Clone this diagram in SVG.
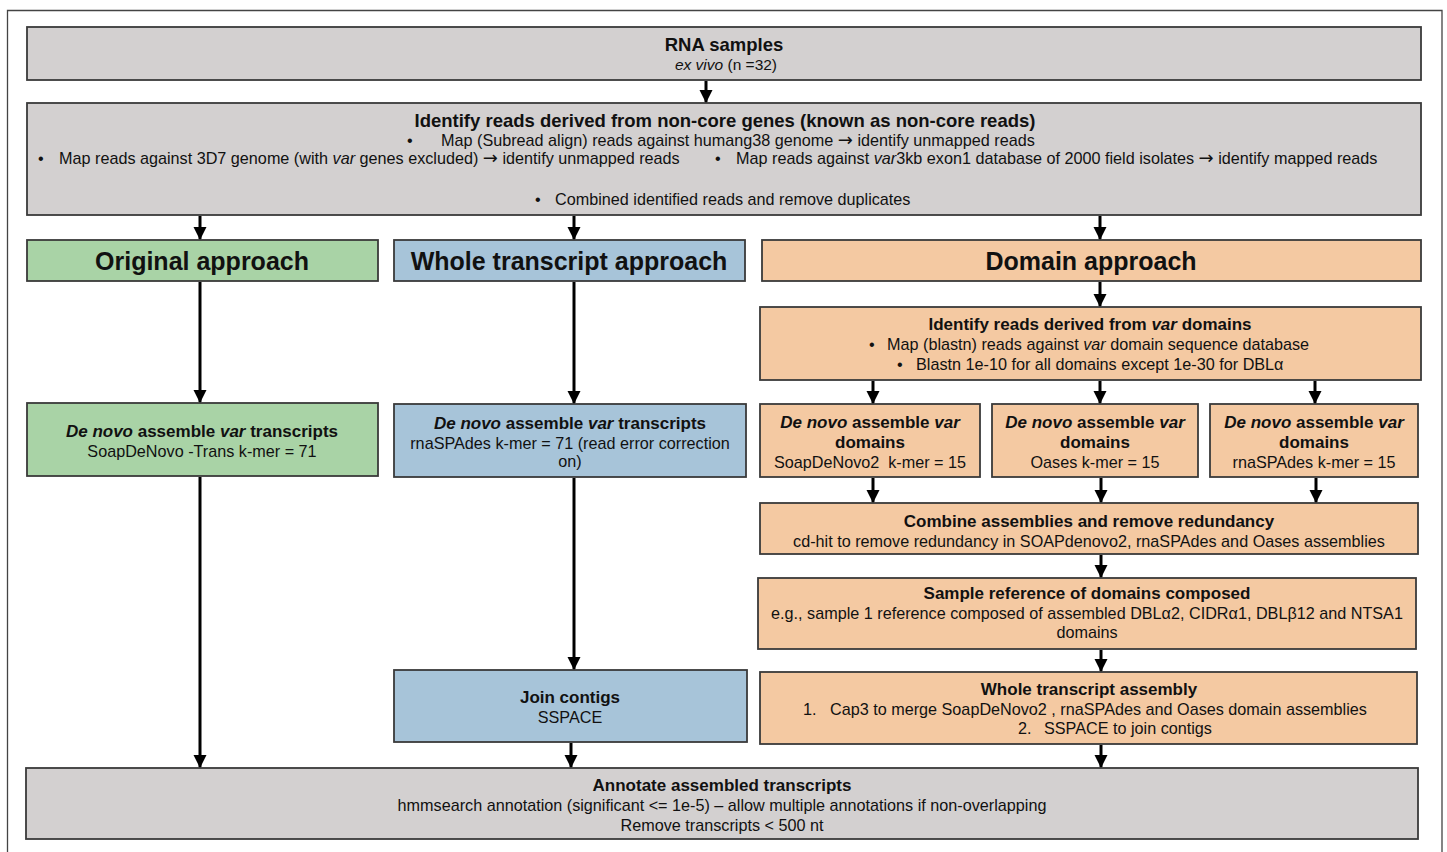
<svg xmlns="http://www.w3.org/2000/svg" width="1447" height="852" viewBox="0 0 1447 852" xml:space="preserve">
<style>
text{font-family:"Liberation Sans",Arial,sans-serif;fill:#111;text-anchor:middle;font-size:16.2px;white-space:pre}
.s{text-anchor:start}
.b{font-weight:bold;font-size:17px}
.t{font-weight:bold;font-size:18.5px}
.h{font-weight:bold;font-size:25px}
.i{font-style:italic}
.ar{font-family:"DejaVu Sans",sans-serif;font-size:18px}
.box{stroke:#3a3a3a;stroke-width:1.8}
.g{fill:#d3d0d0}
.gr{fill:#a9d3a6}
.bl{fill:#a7c4d9}
.pe{fill:#f4c9a2}
.c line{stroke:#000;stroke-width:3;marker-end:url(#ah)}
</style>
<defs>
<marker id="ah" markerUnits="userSpaceOnUse" markerWidth="14" markerHeight="14" refX="12" refY="6.5" orient="auto">
<path d="M0,0 L13,6.5 L0,13 Z" fill="#000"/>
</marker>
</defs>
<rect x="0" y="0" width="1447" height="852" fill="#fff"/>
<path d="M7.5,860 V10.5 H1442 V860" fill="none" stroke="#444" stroke-width="1.3"/>

<g id="rna"><rect class="box g" x="27" y="27" width="1394" height="53"/>
<text class="t" x="724" y="51">RNA samples</text>
<text x="726" y="70" style="font-size:15.5px"><tspan class="i">ex vivo</tspan> (n =32)</text></g>

<g id="identify"><rect class="box g" x="27" y="103" width="1394" height="112"/>
<text class="t" x="725" y="127">Identify reads derived from non-core genes (known as non-core reads)</text>
<text class="s" y="146"><tspan x="407">•</tspan><tspan x="441">Map (Subread align) reads against humang38 genome </tspan><tspan class="ar">→</tspan> identify unmapped reads</text>
<text class="s" y="164"><tspan x="38">•</tspan><tspan x="59">Map reads against 3D7 genome (with <tspan class="i">var</tspan> genes excluded) </tspan><tspan class="ar">→</tspan> identify unmapped reads</text>
<text class="s" y="164"><tspan x="715">•</tspan><tspan x="736">Map reads against <tspan class="i">var</tspan>3kb exon1 database of 2000 field isolates </tspan><tspan class="ar">→</tspan> identify mapped reads</text>
<text class="s" y="205"><tspan x="535">•</tspan><tspan x="555">Combined identified reads and remove duplicates</tspan></text></g>

<g id="original"><rect class="box gr" x="27" y="240" width="351" height="41"/>
<text class="h" x="202" y="270">Original approach</text></g>
<g id="whole"><rect class="box bl" x="394" y="240" width="351" height="41"/>
<text class="h" x="569" y="270">Whole transcript approach</text></g>
<g id="domain"><rect class="box pe" x="762" y="240" width="659" height="41"/>
<text class="h" x="1091" y="270">Domain approach</text></g>

<g id="orig-denovo"><rect class="box gr" x="27" y="403" width="351" height="73"/>
<text class="b" x="202" y="437"><tspan class="i">De novo</tspan> assemble <tspan class="i">var</tspan> transcripts</text>
<text x="202" y="457">SoapDeNovo -Trans k-mer = 71</text></g>

<g id="whole-denovo"><rect class="box bl" x="394" y="404" width="352" height="73"/>
<text class="b" x="570" y="429"><tspan class="i">De novo</tspan> assemble <tspan class="i">var</tspan> transcripts</text>
<text x="570" y="449">rnaSPAdes k-mer = 71 (read error correction</text>
<text x="570" y="467">on)</text></g>

<g id="var-domains"><rect class="box pe" x="760" y="307" width="661" height="73"/>
<text class="b" x="1090" y="330">Identify reads derived from <tspan class="i">var</tspan> domains</text>
<text class="s" y="350"><tspan x="869">•</tspan><tspan x="887">Map (blastn) reads against <tspan class="i">var</tspan> domain sequence database</tspan></text>
<text class="s" y="370"><tspan x="897">•</tspan><tspan x="916">Blastn 1e-10 for all domains except 1e-30 for DBLα</tspan></text></g>

<g id="soap"><rect class="box pe" x="760" y="404" width="220" height="73"/>
<text class="b" x="870" y="428"><tspan class="i">De novo</tspan> assemble <tspan class="i">var</tspan></text>
<text class="b" x="870" y="448">domains</text>
<text x="870" y="468">SoapDeNovo2  k-mer = 15</text></g>
<g id="oases"><rect class="box pe" x="992" y="404" width="206" height="73"/>
<text class="b" x="1095" y="428"><tspan class="i">De novo</tspan> assemble <tspan class="i">var</tspan></text>
<text class="b" x="1095" y="448">domains</text>
<text x="1095" y="468">Oases k-mer = 15</text></g>
<g id="rnaspades"><rect class="box pe" x="1210" y="404" width="208" height="73"/>
<text class="b" x="1314" y="428"><tspan class="i">De novo</tspan> assemble <tspan class="i">var</tspan></text>
<text class="b" x="1314" y="448">domains</text>
<text x="1314" y="468">rnaSPAdes k-mer = 15</text></g>

<g id="combine"><rect class="box pe" x="760" y="503" width="658" height="51"/>
<text class="b" x="1089" y="527">Combine assemblies and remove redundancy</text>
<text x="1089" y="547">cd-hit to remove redundancy in SOAPdenovo2, rnaSPAdes and Oases assemblies</text></g>

<g id="sample-ref"><rect class="box pe" x="758" y="578" width="658" height="71"/>
<text class="b" x="1087" y="599">Sample reference of domains composed</text>
<text x="1087" y="619">e.g., sample 1 reference composed of assembled DBLα2, CIDRα1, DBLβ12 and NTSA1</text>
<text x="1087" y="638">domains</text></g>

<g id="wta"><rect class="box pe" x="760" y="672" width="657" height="72"/>
<text class="b" x="1089" y="695">Whole transcript assembly</text>
<text class="s" y="715"><tspan x="803">1.</tspan><tspan x="830">Cap3 to merge SoapDeNovo2 , rnaSPAdes and Oases domain assemblies</tspan></text>
<text class="s" y="734"><tspan x="1018">2.</tspan><tspan x="1044">SSPACE to join contigs</tspan></text></g>

<g id="join"><rect class="box bl" x="394" y="670" width="353" height="72"/>
<text class="b" x="570" y="703">Join contigs</text>
<text x="570" y="723">SSPACE</text></g>

<g id="annotate"><rect class="box g" x="26" y="768" width="1392" height="71"/>
<text class="b" x="722" y="791">Annotate assembled transcripts</text>
<text x="722" y="811">hmmsearch annotation (significant &lt;= 1e-5) – allow multiple annotations if non-overlapping</text>
<text x="722" y="831">Remove transcripts &lt; 500 nt</text></g>

<g id="connectors" class="c">
<line x1="706" y1="81" x2="706" y2="102"/>
<line x1="200" y1="216" x2="200" y2="239"/>
<line x1="574" y1="216" x2="574" y2="239"/>
<line x1="1100" y1="216" x2="1100" y2="239"/>
<line x1="200" y1="282" x2="200" y2="402"/>
<line x1="574" y1="282" x2="574" y2="403"/>
<line x1="1100" y1="282" x2="1100" y2="306"/>
<line x1="873" y1="381" x2="873" y2="403"/>
<line x1="1100" y1="381" x2="1100" y2="403"/>
<line x1="1315" y1="381" x2="1315" y2="403"/>
<line x1="873" y1="478" x2="873" y2="502"/>
<line x1="1101" y1="478" x2="1101" y2="502"/>
<line x1="1316" y1="478" x2="1316" y2="502"/>
<line x1="1101" y1="555" x2="1101" y2="577"/>
<line x1="1101" y1="650" x2="1101" y2="671"/>
<line x1="1101" y1="745" x2="1101" y2="767"/>
<line x1="200" y1="477" x2="200" y2="767"/>
<line x1="574" y1="478" x2="574" y2="669"/>
<line x1="571" y1="743" x2="571" y2="767"/>
</g>
</svg>
